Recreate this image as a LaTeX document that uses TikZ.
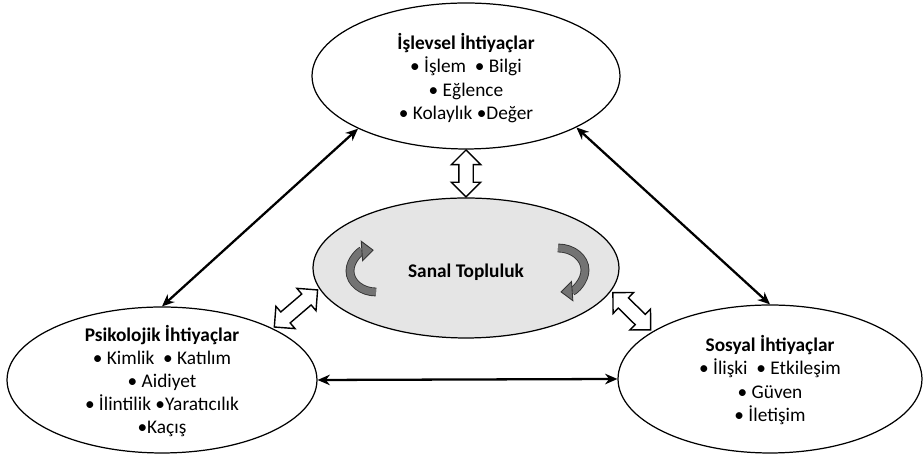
\documentclass[tikz,border=0pt]{standalone}
\usepackage{fontspec}
\setmainfont{Carlito}
\usetikzlibrary{shapes,arrows,positioning,calc,arrows.meta}

\begin{document}
\begin{tikzpicture}[x=0.02cm, y=0.02cm,
        need/.style={draw, ellipse, line width=0.7pt, inner sep=0pt},
        needtext/.style={align=center, font=\fontsize{11}{13.2}\selectfont, text=black},
        link/.style={{Stealth[length=7pt,width=6pt]}-{Stealth[length=7pt,width=6pt]}, line width=1.3pt},
        twoway/.style={draw, thick, fill=white, double arrow, double arrow head extend=0.15cm, inner sep=0.13cm},
        spin/.style={draw=black!80, double=black!55, double distance=4pt, line width=0.5pt, -{Triangle[length=7pt,width=12pt,fill=black!55]}}
    ]
        \useasboundingbox (0,0) rectangle (924,455);

        \node [need, minimum width=6.16cm, minimum height=2.92cm] (func) at (466,379) {};
        \node [need, fill=gray!20, minimum width=6.12cm, minimum height=2.8cm] (mid) at (466,187) {};
        \node [need, minimum width=6.2cm, minimum height=2.92cm] (psy) at (162,75) {};
        \node [need, minimum width=6.08cm, minimum height=2.96cm] (soc) at (770,76) {};

        \node [needtext] (funcText) at (466,377) {\textbf{İşlevsel İhtiyaçlar}\\• İşlem\ \ • Bilgi\\• Eğlence\\• Kolaylık •Değer};
        \node [needtext] (midText) at (466,183) {\textbf{Sanal Topluluk}};
        \node [needtext] (psyText) at (162,74) {\textbf{Psikolojik İhtiyaçlar}\\• Kimlik\ \ • Katılım\\• Aidiyet\\• İlintilik •Yaratıcılık\\•Kaçış};
        \node [needtext] (socText) at (770,75) {\textbf{Sosyal İhtiyaçlar}\\• İlişki\ \ • Etkileşim\\• Güven\\• İletişim};

        \draw [link] (func.206) -- (psy.north);
        \draw [link] (func.335) -- (soc.north);
        \draw [link] (psy.east) -- (soc.west);

        \path (func.south) -- (mid.north) node [twoway, midway, sloped, minimum height=0.94cm] (funcMid) {};
        \path (psy.25) -- (mid.188) node [twoway, midway, sloped, minimum height=1.14cm] (psyMid) {};
        \path (mid.351) -- (soc.158) node [twoway, midway, sloped, minimum height=1.06cm] (midSoc) {};

        \draw [spin] ([shift={(-90,-24)}]mid.center) arc [start angle=270, end angle=95, x radius=26, y radius=21];
        \draw [spin] ([shift={(92,20)}]mid.center) arc [start angle=90, end angle=-85, x radius=27, y radius=22];
    \end{tikzpicture}
\end{document}
